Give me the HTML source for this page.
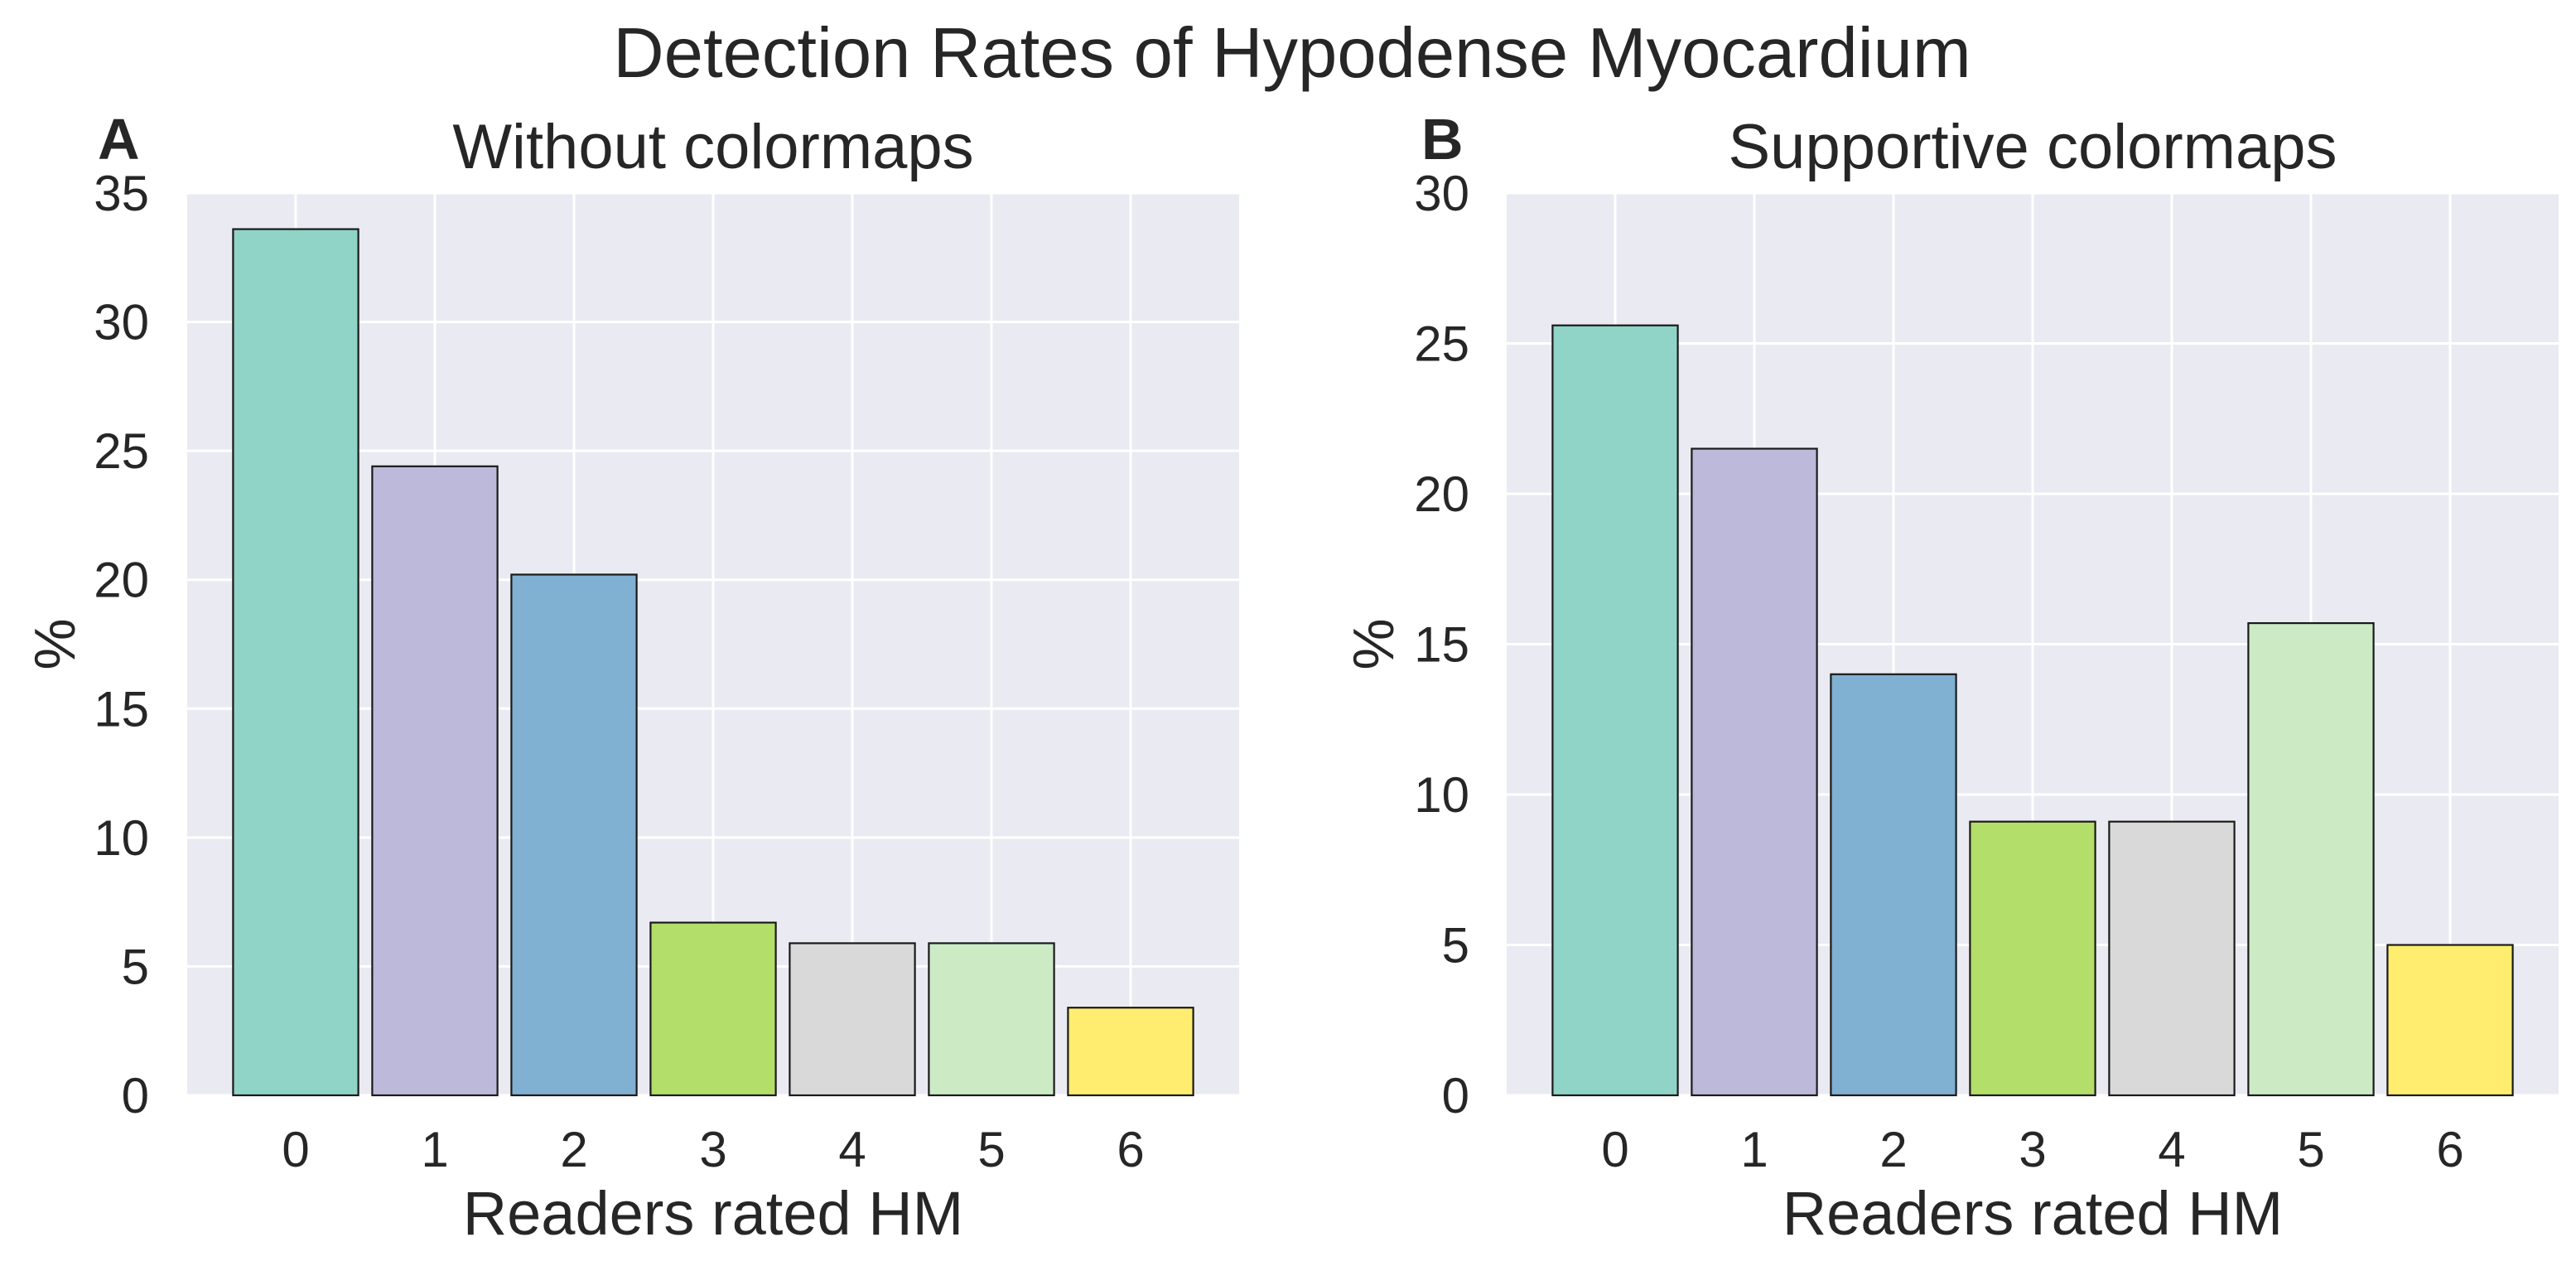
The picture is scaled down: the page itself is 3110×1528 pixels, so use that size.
<!DOCTYPE html>
<html><head><meta charset="utf-8"><style>
html,body{margin:0;padding:0;background:#fff;}
svg{display:block;font-family:"Liberation Sans",Arial,sans-serif;}
</style></head><body>
<svg id="fig" width="3110" height="1528" viewBox="0 0 3110 1528" xmlns="http://www.w3.org/2000/svg">
<text x="1560" y="93" font-size="85" text-anchor="middle" fill="#262626">Detection Rates of Hypodense Myocardium</text>
</svg>
<script>
const categories = ["0","1","2","3","4","5","6"];
const valuesA = [33.6, 24.4, 20.2, 6.7, 5.9, 5.9, 3.4];
const valuesB = [25.6, 21.5, 14.0, 9.1, 9.1, 15.7, 5.0];
const ticksA = [0,5,10,15,20,25,30,35];
const ticksB = [0,5,10,15,20,25,30];
const colors = ["#8fd4c6","#bcb9da","#80b0d2","#b3de69","#d9d9d9","#ccebc5","#ffed6f"];

const NS = "http://www.w3.org/2000/svg";
const svg = document.getElementById("fig");
function mk(tag, attrs, parent){
  const e = document.createElementNS(NS, tag);
  for (const k in attrs) e.setAttribute(k, attrs[k]);
  (parent||svg).appendChild(e);
  return e;
}
function panel(opt){
  const g = mk("g", {});
  
  
  const top = 233, bottom = 1322, pitch = 168;
  const left = opt.c0 - 0.78*pitch, right = opt.c0 + 6*pitch + 0.78*pitch;
  const ymax = opt.ticks[opt.ticks.length-1];
  const y = v => bottom - (v/ymax)*(bottom-top);
  const x = i => opt.c0 + i*pitch;
  const bg = mk("rect", {x:left, y:top, width:right-left, height:bottom-top, fill:"#eaeaf2"}, g);
  
  
  opt.ticks.forEach(t => {
    const gl = mk("line", {x1:left, x2:right, y1:y(t), y2:y(t), stroke:"#fff", "stroke-width":3}, g);
    
    
    const tl = mk("text", {x:opt.tickRight, y:y(t)+21, "font-size":60, "text-anchor":"end", fill:"#262626"}, g);
    tl.textContent = t;
    
    
  });
  categories.forEach((c,i) => {
    const gl = mk("line", {x1:x(i), x2:x(i), y1:top, y2:bottom, stroke:"#fff", "stroke-width":3}, g);
    
    
  });
  const bw = 0.9*pitch;
  categories.forEach((c,i) => {
    const v = opt.values[i];
    const b = mk("rect", {x:x(i)-bw/2, y:y(v), width:bw, height:bottom-y(v), fill:colors[i], stroke:"#1a1a1a", "stroke-width":2.2}, g);
    
    
    const tl = mk("text", {x:x(i), y:1408, "font-size":60, "text-anchor":"middle", fill:"#262626"}, g);
    tl.textContent = c;
    
    
  });
  const cx = (left+right)/2;
  const t = mk("text", {x:cx, y:203, "font-size":76, "text-anchor":"middle", fill:"#262626"}, g);
  t.textContent = opt.title;
  
  
  const xl = mk("text", {x:cx, y:1490, "font-size":74, "text-anchor":"middle", fill:"#262626"}, g);
  xl.textContent = "Readers rated HM";
  
  
  const yl = mk("text", {x:0, y:0, "font-size":70, "text-anchor":"middle", fill:"#262626", transform:"translate(" + (opt.ylabX) + "," + ((top+bottom)/2) + ") rotate(-90)"}, g);
  yl.textContent = "%";
  
  
  const lt = mk("text", {x:opt.letterX, y:192, "font-size":70, "font-weight":"bold", fill:"#262626"}, g);
  lt.textContent = opt.letter;
  
  
}
panel({name:"panel-a", c0:357, values:valuesA, ticks:ticksA, title:"Without colormaps", tickRight:180, ylabX:90, letterX:118, letter:"A"});
panel({name:"panel-b", c0:1950, values:valuesB, ticks:ticksB, title:"Supportive colormaps", tickRight:1774, ylabX:1682, letterX:1716, letter:"B"});
</script>
</body></html>
